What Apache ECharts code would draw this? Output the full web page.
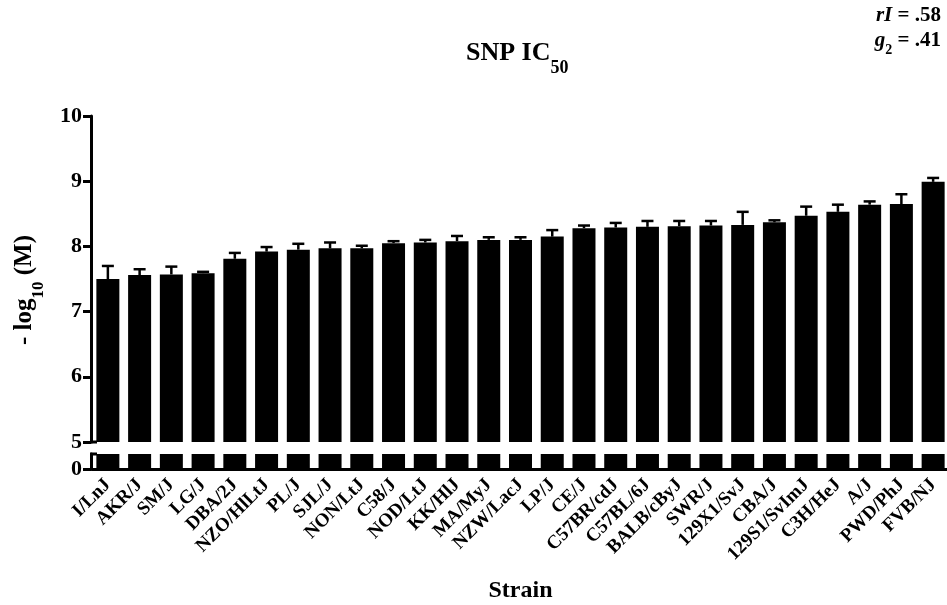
<!DOCTYPE html>
<html>
<head>
<meta charset="utf-8">
<script src="https://cdn.jsdelivr.net/npm/echarts@6/dist/echarts.min.js"></script>
<style>html,body{margin:0;padding:0;background:#fff}#c{width:947px;height:605px}</style>
</head>
<body>
<div id="c"></div>
<script>
const categories = ['I/LnJ','AKR/J','SM/J','LG/J','DBA/2J','NZO/HlLtJ','PL/J','SJL/J','NON/LtJ','C58/J','NOD/LtJ','KK/HlJ','MA/MyJ','NZW/LacJ','LP/J','CE/J','C57BR/cdJ','C57BL/6J','BALB/cByJ','SWR/J','129X1/SvJ','CBA/J','129S1/SvImJ','C3H/HeJ','A/J','PWD/PhJ','FVB/NJ'];
const means = [7.50,7.56,7.57,7.59,7.81,7.92,7.95,7.97,7.97,8.05,8.06,8.08,8.10,8.10,8.15,8.28,8.29,8.30,8.31,8.32,8.33,8.37,8.47,8.53,8.64,8.65,8.99];
const sems = [0.20,0.09,0.12,0.02,0.09,0.07,0.09,0.09,0.04,0.03,0.04,0.08,0.04,0.04,0.10,0.04,0.07,0.09,0.08,0.07,0.20,0.03,0.14,0.11,0.05,0.15,0.06];
const upperTicks = [5, 10, 1];   // min, max, interval of upper segment
const lowerTicks = [0];          // labelled value of lower segment

const FONT = 'Liberation Serif';
const chart = echarts.init(document.getElementById('c'), null, {renderer: 'canvas'});
const bold = (size, extra) => Object.assign({fontFamily: FONT, fontWeight: 'bold', fontSize: size, color: '#000'}, extra || {});

const option = {
  animation: false,
  backgroundColor: '#fff',
  title: [
    {
      text: '{a|SNP IC}{s|50}',
      left: 466, top: 40, padding: 0,
      textStyle: {rich: {
        a: bold(26, {lineHeight: 28, verticalAlign: 'top'}),
        s: bold(18, {lineHeight: 37, verticalAlign: 'bottom'})
      }}
    },
    {
      text: '{i|rI}{b| = .58}',
      right: 6, top: 4, padding: 0,
      textStyle: {rich: {
        i: bold(21, {fontStyle: 'italic', lineHeight: 24}),
        b: bold(21, {lineHeight: 24})
      }}
    },
    {
      text: '{i|g}{s|2}{b| = .41}',
      right: 6, top: 30, padding: 0,
      textStyle: {rich: {
        i: bold(21, {fontStyle: 'italic', lineHeight: 24, verticalAlign: 'top'}),
        s: bold(14, {lineHeight: 27, verticalAlign: 'bottom'}),
        b: bold(21, {lineHeight: 24, verticalAlign: 'top'})
      }}
    }
  ],
  grid: [
    {left: 92, width: 857, top: 116, height: 326, outerBoundsMode: 'none', containLabel: false},
    {left: 92, width: 857, top: 454, height: 15, outerBoundsMode: 'none', containLabel: false}
  ],
  xAxis: [
    {gridIndex: 0, type: 'category', data: categories, show: false},
    {
      gridIndex: 1, type: 'category', data: categories,
      axisLine: {lineStyle: {color: '#000', width: 3}},
      axisTick: {alignWithLabel: true, length: 10, lineStyle: {color: '#000', width: 3}},
      axisLabel: {interval: 0, rotate: 45, fontFamily: FONT, fontWeight: 'bold', fontSize: 19, color: '#000', margin: 13},
      name: 'Strain', nameLocation: 'middle', nameGap: 110,
      nameTextStyle: bold(24)
    }
  ],
  yAxis: [
    {
      gridIndex: 0, type: 'value', min: upperTicks[0], max: upperTicks[1], interval: upperTicks[2], offset: 1,
      axisLine: {show: true, lineStyle: {color: '#000', width: 3}},
      axisTick: {show: true, length: 8, lineStyle: {color: '#000', width: 3}},
      axisLabel: {fontFamily: FONT, fontWeight: 'bold', fontSize: 22, color: '#000', margin: 9},
      splitLine: {show: false},
      name: '{a|- log}{s|10}{a| (M)}', nameLocation: 'middle', nameGap: 44,
      nameTextStyle: {
        padding: [0, 22, 0, 0],
        rich: {
          a: bold(25, {lineHeight: 27, verticalAlign: 'top'}),
          s: bold(17, {lineHeight: 35, verticalAlign: 'bottom'})
        }
      }
    },
    {
      gridIndex: 1, type: 'value', min: 0, max: 1, interval: 1, offset: 1,
      axisLine: {show: true, lineStyle: {color: '#000', width: 3}},
      axisTick: {show: true, length: 8, customValues: lowerTicks, lineStyle: {color: '#000', width: 3}},
      axisLabel: {customValues: lowerTicks, fontFamily: FONT, fontWeight: 'bold', fontSize: 22, color: '#000', margin: 9},
      splitLine: {show: false}
    }
  ],
  series: [
    {type: 'bar', xAxisIndex: 0, yAxisIndex: 0, data: means, barWidth: 23, clip: true,
     itemStyle: {color: '#000'}},
    {type: 'bar', xAxisIndex: 1, yAxisIndex: 1, data: means, barWidth: 23, clip: true,
     itemStyle: {color: '#000'}},
    {
      type: 'custom', xAxisIndex: 0, yAxisIndex: 0, clip: false,
      data: categories.map((c, i) => [i, means[i], sems[i]]),
      encode: {x: 0, y: 1},
      renderItem: function (params, api) {
        const i = api.value(0), m = api.value(1), e = api.value(2);
        const p0 = api.coord([i, m]);
        const p1 = api.coord([i, m + e]);
        const hw = 6;
        return {
          type: 'group',
          children: [
            {type: 'line', shape: {x1: p0[0], y1: p0[1], x2: p1[0], y2: p1[1]}, style: {stroke: '#000', lineWidth: 2.5}},
            {type: 'line', shape: {x1: p1[0] - hw, y1: p1[1], x2: p1[0] + hw, y2: p1[1]}, style: {stroke: '#000', lineWidth: 2.5}}
          ]
        };
      }
    }
  ]
};
chart.setOption(option);

// axis-break stubs
const y5 = chart.convertToPixel({yAxisIndex: 0}, upperTicks[0]);
const yLowTop = chart.convertToPixel({yAxisIndex: 1}, 1);
chart.setOption({
  graphic: [
    {type: 'line', shape: {x1: 90, y1: y5, x2: 97, y2: y5}, style: {stroke: '#000', lineWidth: 3}},
    {type: 'line', shape: {x1: 90, y1: yLowTop, x2: 97, y2: yLowTop}, style: {stroke: '#000', lineWidth: 3}}
  ]
});
</script>
</body>
</html>
